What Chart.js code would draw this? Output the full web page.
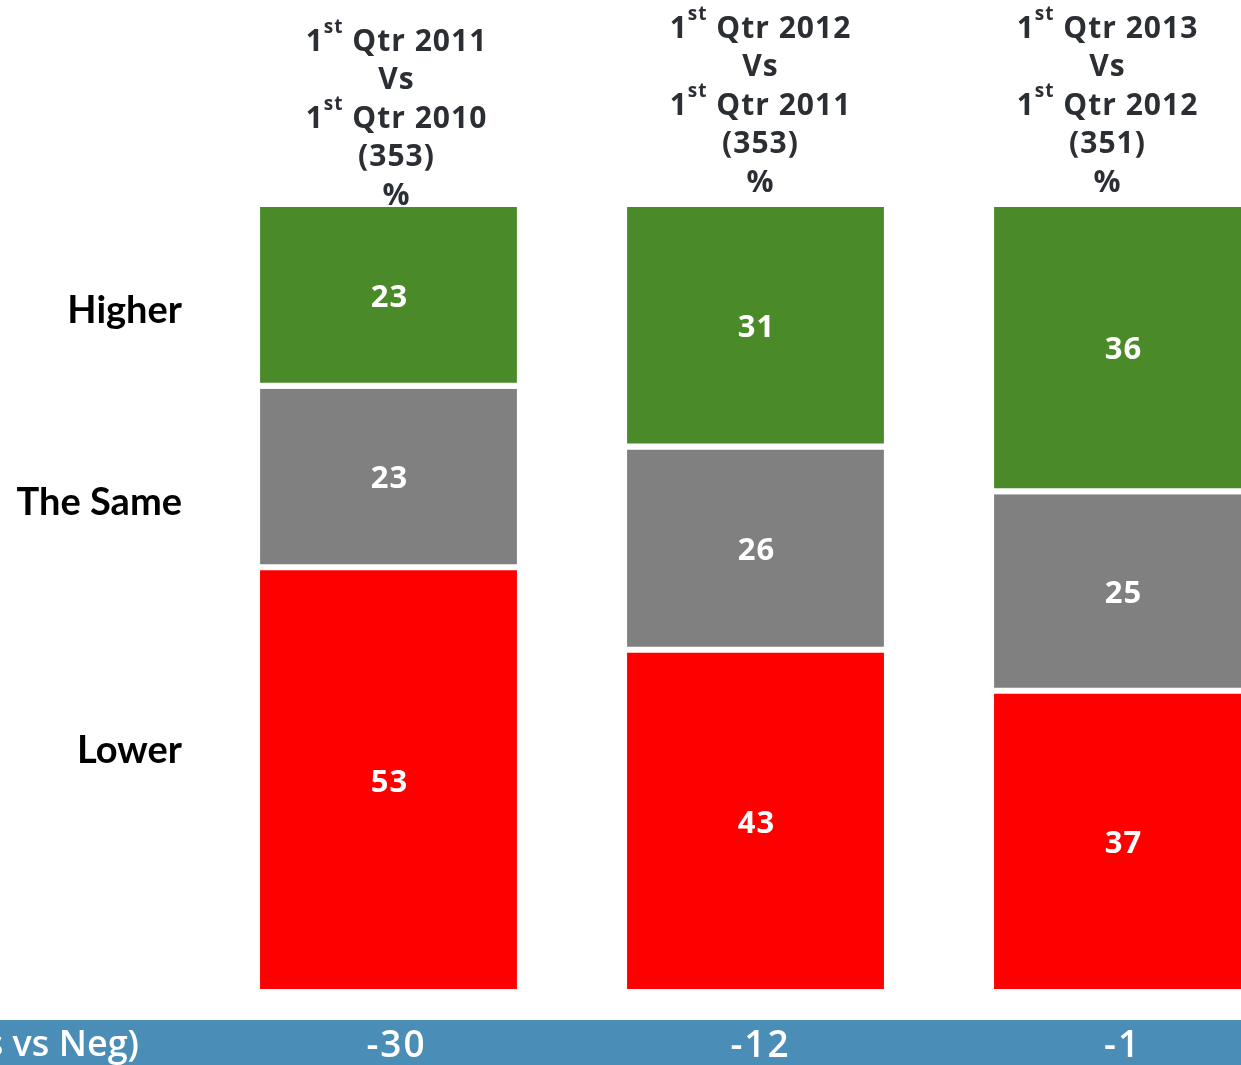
<!DOCTYPE html>
<html>
<head>
<meta charset="utf-8">
<script src="https://cdn.jsdelivr.net/npm/chart.js@4.4.1/dist/chart.umd.min.js"></script>
<style>
  html, body { margin: 0; padding: 0; background: #fff; overflow: hidden; }
  #wrap { position: relative; width: 1241px; height: 1065px; overflow: hidden; }
  #myChart { position: absolute; left: 0; top: 0; }
</style>
</head>
<body>
<div id="wrap"><canvas id="myChart" width="1400" height="1065"></canvas></div>
<script>
// Datos de la encuesta: comparacion del primer trimestre de cada año
const currentQtr = ["2011", "2012", "2013"];
const previousQtr = ["2010", "2011", "2012"];
const bases = [353, 353, 351];
const rowNames = ["Higher", "The Same", "Lower"];
const higher = [23, 31, 36];
const same = [23, 26, 25];
const lower = [53, 43, 37];
const net = [-30, -12, -1];
const netLabel = "Net (Pos vs Neg)";

const colores = ["#4a8a28", "#808080", "#ff0000"];
const series = [higher, same, lower];
const categorias = currentQtr.map((q, i) => "1st Qtr " + q + " Vs 1st Qtr " + previousQtr[i]);

// Cada columna suma a su propio total, asi que cada una tiene su eje y oculto
function armarDatasets() {
  const datasets = [];
  categorias.forEach((c, col) => {
    // se apilan de abajo hacia arriba: Lower, The Same, Higher
    for (let s = series.length - 1; s >= 0; s--) {
      const gap = s < series.length - 1 ? 6 : 0;
      datasets.push({
        label: rowNames[s],
        data: categorias.map((_, i) => (i === col ? series[s][col] : null)),
        backgroundColor: colores[s],
        borderColor: "#ffffff",
        borderWidth: { top: 0, right: 0, bottom: gap, left: 0 },
        borderSkipped: false,
        yAxisID: "y" + col,
        categoryPercentage: 1,
        barPercentage: 0.7,
      });
    }
  });
  return datasets;
}

function armarEjes() {
  const scales = { x: { type: "category", stacked: true, display: false } };
  categorias.forEach((c, col) => {
    const total = higher[col] + same[col] + lower[col];
    scales["y" + col] = { type: "linear", stacked: true, display: false, min: 0, max: total };
  });
  return scales;
}

// Numeros blancos dentro de cada segmento
const etiquetasBarras = {
  id: "etiquetasBarras",
  afterDatasetsDraw(chart) {
    const ctx = chart.ctx;
    ctx.save();
    ctx.fillStyle = "#ffffff";
    ctx.font = "bold 31px 'Open Sans'";
    ctx.letterSpacing = "1px";
    ctx.textAlign = "center";
    ctx.textBaseline = "middle";
    chart.data.datasets.forEach((ds, d) => {
      const meta = chart.getDatasetMeta(d);
      meta.data.forEach((bar, i) => {
        const v = ds.data[i];
        if (v === null) return;
        const bw = ds.borderWidth.bottom;
        const y = (bar.y + bar.base - bw) / 2;
        ctx.fillText(String(v), bar.x + 1, y + 3);
      });
    });
    ctx.restore();
  },
};

// Encabezados, nombres de filas y franja inferior con el neto
const textosFijos = {
  id: "textosFijos",
  afterDraw(chart, args, opts) {
    const ctx = chart.ctx;
    const x = chart.scales.x;
    ctx.save();

    // encabezados de columna con superindice
    const main = "bold 30px 'Open Sans'";
    const sup = "bold 19px 'Open Sans'";
    ctx.fillStyle = "#2b2e33";
    ctx.textAlign = "left";
    ctx.textBaseline = "middle";
    ctx.letterSpacing = "1px";
    categorias.forEach((c, i) => {
      const lines = [
        [{ t: "1" }, { t: "st", sup: true }, { t: " Qtr " + currentQtr[i] }],
        [{ t: "Vs" }],
        [{ t: "1" }, { t: "st", sup: true }, { t: " Qtr " + previousQtr[i] }],
        [{ t: "(" + bases[i] + ")" }],
        [{ t: "%" }],
      ];
      const cx = x.getPixelForValue(i) + opts.headerDx[i];
      let y = opts.headerTop + opts.headerDy[i];
      lines.forEach((parts) => {
        let w = 0;
        parts.forEach((p) => {
          ctx.font = p.sup ? sup : main;
          p.w = ctx.measureText(p.t).width;
          w += p.w;
        });
        let px = cx - w / 2;
        parts.forEach((p) => {
          ctx.font = p.sup ? sup : main;
          ctx.fillText(p.t, px, p.sup ? y - 14 : y);
          px += p.w;
        });
        y += opts.lineHeight;
      });
    });

    // nombres de las filas a la izquierda
    ctx.letterSpacing = "0px";
    ctx.fillStyle = "#000000";
    ctx.font = "bold 38px Lato";
    ctx.textAlign = "right";
    rowNames.forEach((n, s) => {
      ctx.fillText(n, opts.rowRight, opts.rowY[s]);
    });

    // franja azul con el neto
    ctx.fillStyle = "#4a8db7";
    ctx.fillRect(0, opts.bandTop, chart.width, chart.height - opts.bandTop);
    ctx.fillStyle = "#ffffff";
    ctx.font = "600 36px 'Open Sans'";
    ctx.textAlign = "right";
    ctx.fillText(netLabel, opts.netLabelRight, opts.bandTop + 26);
    ctx.font = "600 37px 'Open Sans'";
    ctx.letterSpacing = "2px";
    ctx.textAlign = "center";
    net.forEach((v, i) => {
      ctx.fillText(String(v), x.getPixelForValue(i) + opts.bandDx[i], opts.bandTop + 26);
    });

    ctx.restore();
  },
};

const config = {
  type: "bar",
  data: { labels: categorias, datasets: armarDatasets() },
  options: {
    responsive: false,
    animation: false,
    devicePixelRatio: 1,
    layout: { padding: { left: 205, right: 94, top: 207, bottom: 76 } },
    scales: armarEjes(),
    plugins: {
      legend: { display: false },
      tooltip: { enabled: false },
      textosFijos: {
        headerTop: 42,
        headerDy: [0, -13, -13],
        headerDx: [8, 5, -15],
        lineHeight: 38.5,
        rowRight: 182,
        rowY: [311, 503, 751],
        bandTop: 1020,
        bandDx: [8, 5, 0],
        netLabelRight: 139,
      },
    },
  },
  plugins: [etiquetasBarras, textosFijos],
};

new Chart(document.getElementById("myChart").getContext("2d"), config);
</script>
</body>
</html>
